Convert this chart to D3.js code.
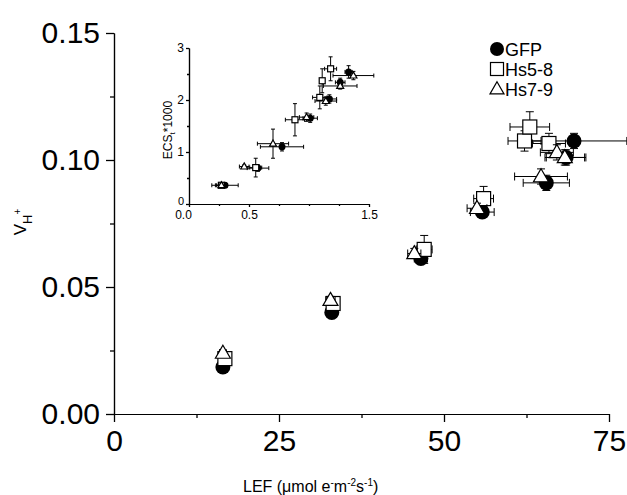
<!DOCTYPE html>
<html>
<head>
<meta charset="utf-8">
<script src="https://cdn.jsdelivr.net/npm/d3@7"></script>
<style>
  body { margin: 0; background: #fff; }
  svg { display: block; font-family: "Liberation Sans", Arial, sans-serif; }
</style>
</head>
<body>
<svg id="chart" width="627" height="495"></svg>
<script>
// main plot: V_H+ vs LEF
const gfpLef = [16.5, 33.0, 46.5, 55.8, 65.5, 68.5, 69.7];
const gfpVh = [0.0185, 0.0400, 0.0612, 0.0795, 0.0910, 0.1010, 0.1075];
const gfpLefErr = [0.6, 0.8, 1.0, 1.8, 3.5, 3.0, 8.0];
const gfpVhErr = [0.001, 0.001, 0.0015, 0.002, 0.003, 0.003, 0.003];

const hs58Lef = [16.8, 33.2, 47.0, 56.0, 62.2, 63.0, 65.9];
const hs58Vh = [0.0218, 0.0435, 0.0648, 0.0848, 0.1075, 0.1130, 0.1065];
const hs58LefErr = [0.6, 0.8, 1.2, 1.5, 2.5, 3.0, 2.5];
const hs58VhErr = [0.0015, 0.0025, 0.0055, 0.0048, 0.004, 0.006, 0.004];

const hs79Lef = [16.5, 32.8, 45.5, 55.0, 64.7, 67.1, 68.3];
const hs79Vh = [0.0240, 0.0448, 0.0632, 0.0810, 0.0935, 0.1030, 0.1010];
const hs79LefErr = [0.5, 0.7, 1.0, 1.5, 4.0, 2.5, 3.0];
const hs79VhErr = [0.001, 0.0015, 0.002, 0.002, 0.003, 0.003, 0.003];

// inset: ECS_t*1000
const gfpEcsX = [0.30, 0.575, 0.775, 1.01, 1.17, 1.26, 1.33];
const gfpEcsY = [0.36, 0.69, 1.10, 1.65, 2.02, 2.34, 2.54];
const gfpEcsXErr = [0.11, 0.09, 0.18, 0.06, 0.06, 0.04, 0.03];
const gfpEcsYErr = [0.04, 0.06, 0.08, 0.08, 0.08, 0.08, 0.12];

const hs58EcsX = [0.27, 0.556, 0.883, 1.09, 1.11, 1.18];
const hs58EcsY = [0.36, 0.70, 1.62, 2.05, 2.37, 2.60];
const hs58EcsXErr = [0.05, 0.05, 0.08, 0.06, 0.02, 0.05];
const hs58EcsYErr = [0.03, 0.18, 0.31, 0.22, 0.23, 0.23];

const hs79EcsX = [0.27, 0.46, 0.70, 0.98, 1.14, 1.26, 1.37];
const hs79EcsY = [0.36, 0.72, 1.16, 1.67, 1.98, 2.27, 2.47];
const hs79EcsXErr = [0.04, 0.04, 0.13, 0.06, 0.09, 0.14, 0.17];
const hs79EcsYErr = [0.03, 0.03, 0.28, 0.08, 0.08, 0.06, 0.08];

const seriesNames = ["GFP", "Hs5-8", "Hs7-9"];
const mainXTicks = [0, 25, 50, 75];
const mainYTicks = [0, 0.05, 0.10, 0.15];
const insetXTicks = [0, 0.5, 1.0, 1.5];
const insetYTicks = [0, 1, 2, 3];

const svg = d3.select("#chart");

function zip(xs, ys, xe, ye) {
  return xs.map((x, i) => ({ x, y: ys[i], xe: xe[i], ye: ye[i] }));
}

const mainSeries = [
  { name: "GFP", shape: "circle", pts: zip(gfpLef, gfpVh, gfpLefErr, gfpVhErr) },
  { name: "Hs5-8", shape: "square", pts: zip(hs58Lef, hs58Vh, hs58LefErr, hs58VhErr) },
  { name: "Hs7-9", shape: "triangle", pts: zip(hs79Lef, hs79Vh, hs79LefErr, hs79VhErr) }
];
const insetSeries = [
  { name: "GFP", shape: "circle", pts: zip(gfpEcsX, gfpEcsY, gfpEcsXErr, gfpEcsYErr) },
  { name: "Hs5-8", shape: "square", pts: zip(hs58EcsX, hs58EcsY, hs58EcsXErr, hs58EcsYErr) },
  { name: "Hs7-9", shape: "triangle", pts: zip(hs79EcsX, hs79EcsY, hs79EcsXErr, hs79EcsYErr) }
];

// draw one marker centered at 0,0
function marker(g, shape, size) {
  if (shape === "circle") {
    g.append("circle").attr("r", size / 2).attr("fill", "#000");
  } else if (shape === "square") {
    g.append("rect").attr("x", -size / 2 + 0.5).attr("y", -size / 2 + 0.5)
      .attr("width", size - 1).attr("height", size - 1)
      .attr("fill", "#fff").attr("stroke", "#000").attr("stroke-width", 1.2);
  } else {
    const h = size * 0.87;
    g.append("path")
      .attr("d", `M0,${-h * 0.6}L${size / 2},${h * 0.4}L${-size / 2},${h * 0.4}Z`)
      .attr("fill", "#fff").attr("stroke", "#000").attr("stroke-width", 1.2);
  }
}

function drawSeries(layer, series, x, y, size, cap) {
  series.forEach(s => {
    const g = layer.append("g");
    s.pts.forEach(p => {
      const cx = x(p.x), cy = y(p.y);
      const eb = g.append("g").attr("stroke", "#000").attr("stroke-width", 1);
      // horizontal error
      eb.append("line").attr("x1", x(p.x - p.xe)).attr("x2", x(p.x + p.xe)).attr("y1", cy).attr("y2", cy);
      eb.append("line").attr("x1", x(p.x - p.xe)).attr("x2", x(p.x - p.xe)).attr("y1", cy - cap).attr("y2", cy + cap);
      eb.append("line").attr("x1", x(p.x + p.xe)).attr("x2", x(p.x + p.xe)).attr("y1", cy - cap).attr("y2", cy + cap);
      // vertical error
      eb.append("line").attr("x1", cx).attr("x2", cx).attr("y1", y(p.y - p.ye)).attr("y2", y(p.y + p.ye));
      eb.append("line").attr("x1", cx - cap).attr("x2", cx + cap).attr("y1", y(p.y - p.ye)).attr("y2", y(p.y - p.ye));
      eb.append("line").attr("x1", cx - cap).attr("x2", cx + cap).attr("y1", y(p.y + p.ye)).attr("y2", y(p.y + p.ye));
    });
    s.pts.forEach(p => {
      marker(g.append("g").attr("transform", `translate(${x(p.x)},${y(p.y)})`), s.shape, size);
    });
  });
}

function styleAxis(g, fontSize) {
  g.select(".domain").attr("stroke", "#000").attr("stroke-width", 1.3);
  g.selectAll(".tick line").attr("stroke", "#000").attr("stroke-width", 1.3);
  g.selectAll(".tick text").attr("fill", "#000").attr("font-size", fontSize)
    .attr("font-family", "Liberation Sans, Arial, sans-serif");
}

// ---- main plot ----
const x = d3.scaleLinear().domain([0, 75]).range([114, 609]);
const y = d3.scaleLinear().domain([0, 0.15]).range([414, 33]);

const xMinor = svg.append("g").attr("transform", "translate(0,414)")
  .call(d3.axisBottom(x).tickValues([12.5, 37.5, 62.5]).tickSize(4).tickFormat("").tickSizeOuter(0));
styleAxis(xMinor, 0);
const yMinor = svg.append("g").attr("transform", "translate(114,0)")
  .call(d3.axisLeft(y).tickValues([0.025, 0.075, 0.125]).tickSize(4).tickFormat("").tickSizeOuter(0));
styleAxis(yMinor, 0);

const xAxis = svg.append("g").attr("transform", "translate(0,414)")
  .call(d3.axisBottom(x).tickValues(mainXTicks).tickSize(8).tickPadding(8).tickSizeOuter(0).tickFormat(d3.format("d")));
styleAxis(xAxis, 30);
const yAxis = svg.append("g").attr("transform", "translate(114,0)")
  .call(d3.axisLeft(y).tickValues(mainYTicks).tickSize(8).tickPadding(6).tickSizeOuter(0).tickFormat(d3.format(".2f")));
styleAxis(yAxis, 30);

drawSeries(svg.append("g"), mainSeries, x, y, 15, 4);

// axis titles
const xt = svg.append("text").attr("x", 243).attr("y", 492)
  .attr("font-size", 16).attr("fill", "#000");
xt.append("tspan").text("LEF (\u03bcmol e");
xt.append("tspan").attr("font-size", 10).attr("dy", -6).text("-");
xt.append("tspan").attr("dy", 6).text("m");
xt.append("tspan").attr("font-size", 10).attr("dy", -6).text("-2");
xt.append("tspan").attr("dy", 6).text("s");
xt.append("tspan").attr("font-size", 10).attr("dy", -6).text("-1");
xt.append("tspan").attr("dy", 6).text(")");

const yt = svg.append("text").attr("transform", "translate(26,222) rotate(-90)")
  .attr("text-anchor", "middle").attr("font-size", 17).attr("fill", "#000");
yt.append("tspan").text("V");
yt.append("tspan").attr("font-size", 13).attr("dy", 6).text("H");
yt.append("tspan").attr("font-size", 10).attr("dy", -11).text("+");

// legend
const legend = svg.append("g");
seriesNames.forEach((name, i) => {
  const ly = 49 + i * 20;
  marker(legend.append("g").attr("transform", `translate(497,${ly})`), mainSeries[i].shape, 14);
  legend.append("text").attr("x", 505).attr("y", ly + 7).attr("font-size", 18).attr("fill", "#000").text(name);
});

// ---- inset ----
const ix = d3.scaleLinear().domain([0, 1.5]).range([189, 369]);
const iy = d3.scaleLinear().domain([0, 3]).range([204, 48]);

const ixMinor = svg.append("g").attr("transform", "translate(0,204)")
  .call(d3.axisBottom(ix).tickValues([0.25, 0.75, 1.25]).tickSize(2).tickFormat("").tickSizeOuter(0));
styleAxis(ixMinor, 0);
const iyMinor = svg.append("g").attr("transform", "translate(189,0)")
  .call(d3.axisLeft(iy).tickValues([0.5, 1.5, 2.5]).tickSize(2).tickFormat("").tickSizeOuter(0));
styleAxis(iyMinor, 0);

const ixAxis = svg.append("g").attr("transform", "translate(0,204)")
  .call(d3.axisBottom(ix).tickValues(insetXTicks).tickSize(3).tickPadding(3).tickSizeOuter(0)
    .tickFormat(d => d === 1 ? "" : d3.format(".1f")(d)));
styleAxis(ixAxis, 12);
ixAxis.selectAll(".tick").filter(d => d === 1).select("line").attr("y2", 2);
ixAxis.selectAll(".tick").filter(d => d === 0).select("text").attr("dx", -6);
const iyAxis = svg.append("g").attr("transform", "translate(189,0)")
  .call(d3.axisLeft(iy).tickValues(insetYTicks).tickSize(3).tickPadding(2).tickSizeOuter(0).tickFormat(d3.format("d")));
styleAxis(iyAxis, 12);
iyAxis.selectAll(".tick").filter(d => d === 0).select("text").attr("font-size", 11).attr("y", -3);
svg.selectAll(".domain").attr("stroke-width", 1.2);

drawSeries(svg.append("g"), insetSeries, ix, iy, 7, 2);

const it = svg.append("text").attr("transform", "translate(172,130) rotate(-90)")
  .attr("text-anchor", "middle").attr("font-size", 12).attr("fill", "#000");
it.append("tspan").text("ECS");
it.append("tspan").attr("font-size", 8).attr("dy", 3).text("t");
it.append("tspan").attr("dy", -3).text("*1000");
</script>
</body>
</html>
